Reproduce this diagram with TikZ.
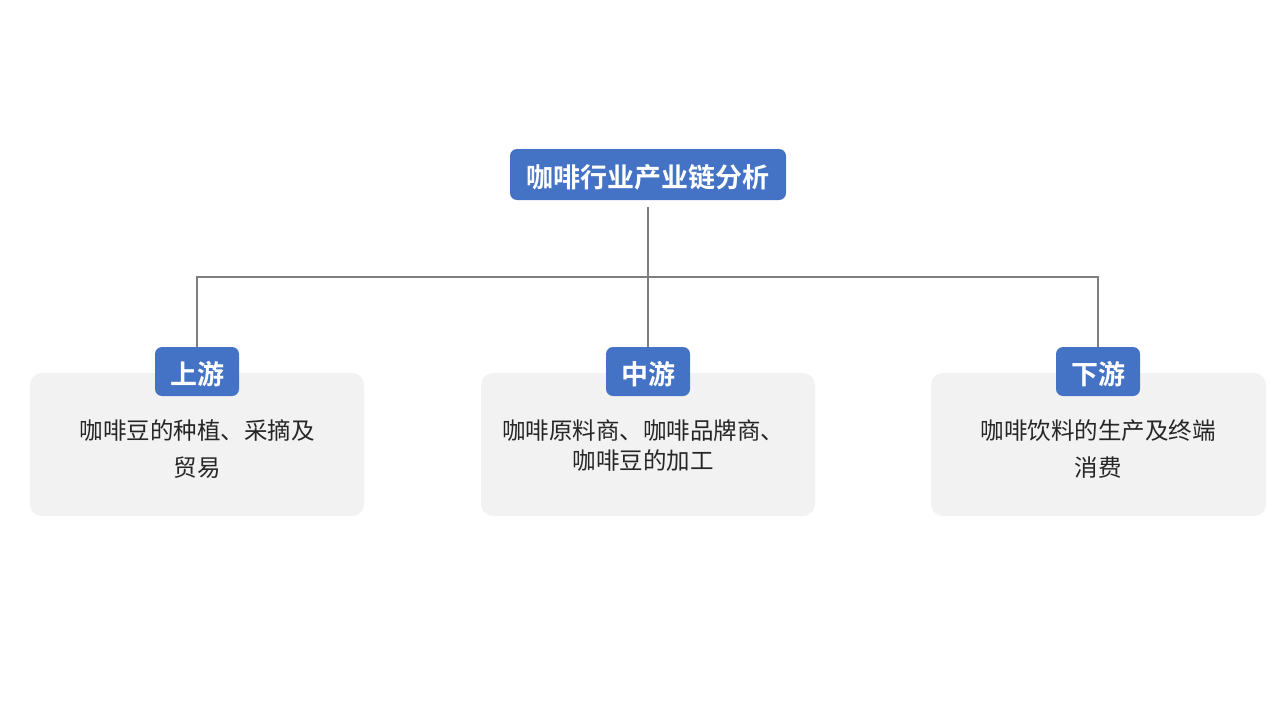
\documentclass[tikz,border=0pt]{standalone}
\usepackage{fontspec}
\newfontfamily\cjk{Noto Sans CJK SC}
\newfontfamily\cjkb{Noto Sans CJK SC Bold}
\definecolor{hdr}{HTML}{4472C4}
\definecolor{card}{HTML}{F2F2F2}
\definecolor{wire}{HTML}{7F7F7F}
\begin{document}
\begin{tikzpicture}[x=1pt,y=-1pt,
  titlebox/.style={fill=hdr,rounded corners=7pt,inner sep=0pt},
  titletext/.style={text=white,font=\cjkb\fontsize{27}{32}\selectfont,inner sep=0pt},
  cardbox/.style={fill=card,rounded corners=12pt,inner sep=0pt},
  bodytext/.style={font=\cjk\fontsize{23.5}{37}\selectfont,align=center,text=black!85},
  wireline/.style={draw=wire,line width=1.6pt}]
\useasboundingbox (0,0) rectangle (1280,720);
% top
\node[titlebox,minimum width=276pt,minimum height=51pt] (top) at (648,174.5) {};
\node[titletext] (topt) at (648,177) {咖啡行业产业链分析};
% cards
\node[cardbox,minimum width=334pt,minimum height=143pt] (c1) at (197,444.5) {};
\node[cardbox,minimum width=334pt,minimum height=143pt] (c2) at (648,444.5) {};
\node[cardbox,minimum width=335pt,minimum height=143pt] (c3) at (1098.5,444.5) {};
% labels
\node[titlebox,minimum width=84pt,minimum height=49pt] (l1) at (197,371.5) {};
\node[titlebox,minimum width=84pt,minimum height=49pt] (l2) at (648,371.5) {};
\node[titlebox,minimum width=84pt,minimum height=49pt] (l3) at (1098,371.5) {};
\node[titletext] (l1t) at (197,374.5) {上游};
\node[titletext] (l2t) at (648,374.5) {中游};
\node[titletext] (l3t) at (1098,374.5) {下游};
% texts
\node[bodytext] (t1) at (197,449) {咖啡豆的种植、采摘及\\贸易};
\node[bodytext,font=\cjk\fontsize{23.5}{30}\selectfont] (t2) at (643,446) {咖啡原料商、咖啡品牌商、\\咖啡豆的加工};
\node[bodytext] (t3) at (1098,449) {咖啡饮料的生产及终端\\消费};
% connectors
\coordinate (j) at (648,277);
\draw[wireline] ([yshift=-7pt]top.south) -- (j);
\draw[wireline] (l1.north) |- (j) -| (l3.north);
\draw[wireline] (j) -- (l2.north);
\end{tikzpicture}
\end{document}
